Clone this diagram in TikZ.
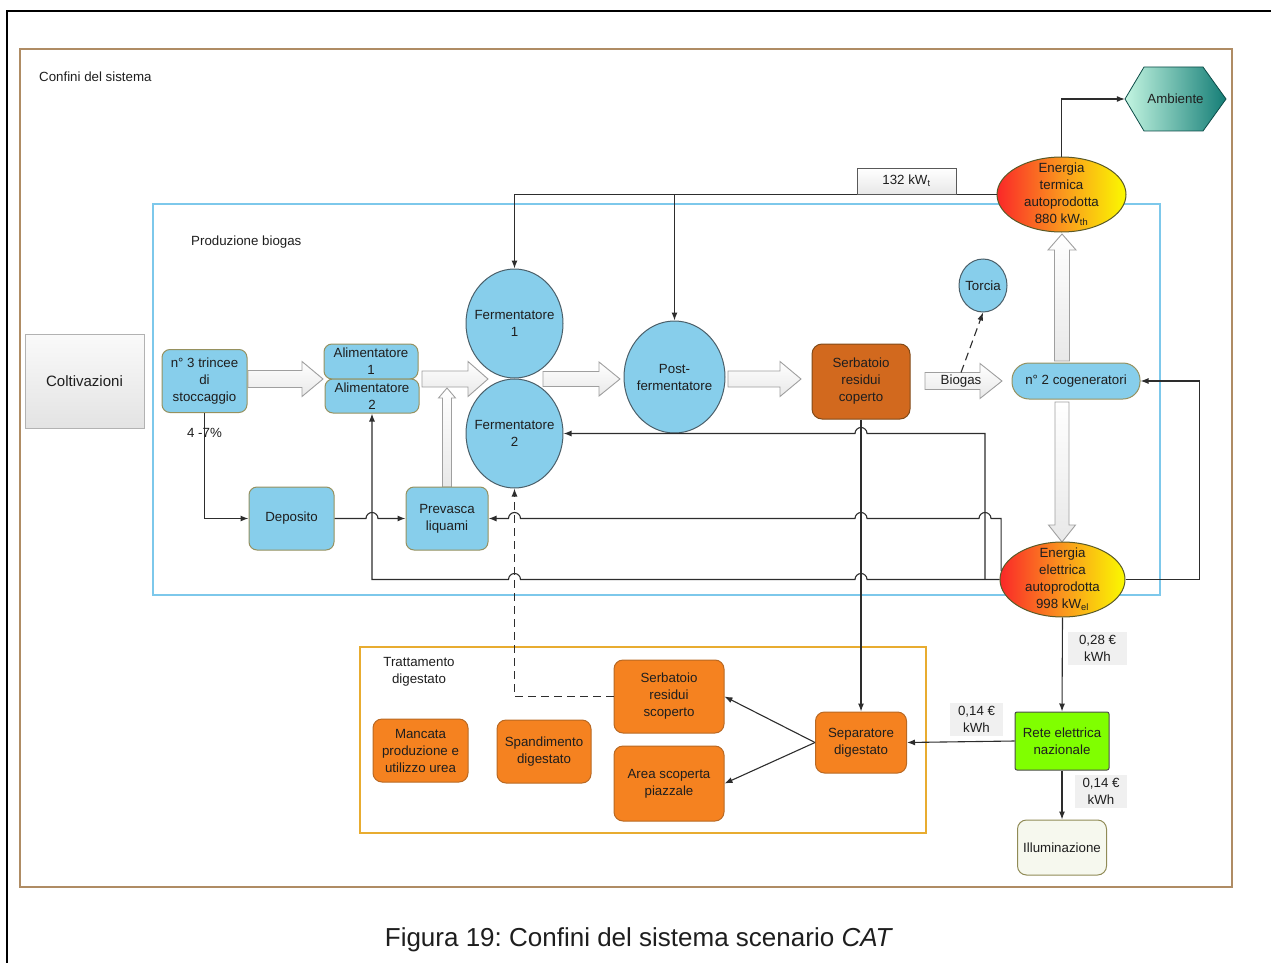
\documentclass[tikz,border=0pt]{standalone}
\usepackage{fontspec}
\setmainfont{Liberation Sans}
\usetikzlibrary{arrows.meta,shapes,positioning}
\frenchspacing

\definecolor{boxblue}{RGB}{135,206,235}
\definecolor{boxedge}{RGB}{150,145,95}
\definecolor{circedge}{RGB}{75,95,105}
\definecolor{cocoa}{RGB}{210,105,30}
\definecolor{tangerine}{RGB}{245,130,32}
\definecolor{orangeedge}{RGB}{185,105,35}
\definecolor{frameblue}{RGB}{125,200,235}
\definecolor{framegold}{RGB}{232,172,48}
\definecolor{frametan}{RGB}{175,140,100}
\definecolor{linegray}{RGB}{45,45,45}
\definecolor{txt}{RGB}{30,30,30}
\definecolor{gridgreen}{RGB}{128,255,0}
\definecolor{paleivory}{RGB}{246,248,238}
\definecolor{flame}{RGB}{250,40,40}
\definecolor{amber}{RGB}{250,150,30}
\definecolor{sun}{RGB}{250,250,0}
\definecolor{mint}{RGB}{195,245,225}
\definecolor{deepteal}{RGB}{20,125,118}

% hollow block arrow: start, length, angle, shaft half, head half, head length
\newcommand{\fatarrow}[6]{%
  \draw[fat,shift={#1},rotate=#3] (0,-#4) -- ({#2-#6},-#4) -- ({#2-#6},-#5) -- (#2,0)
    -- ({#2-#6},#5) -- ({#2-#6},#4) -- (0,#4) -- cycle;}

\begin{document}
\begin{tikzpicture}[x=1pt,y=1pt,
    every node/.style={text=txt,font=\fontsize{13.3}{17}\selectfont,align=center,inner sep=0pt},
    tank/.style={draw=boxedge,fill=boxblue,rounded corners=8pt,line width=1pt},
    vessel/.style={ellipse,draw=circedge,fill=boxblue,line width=1pt,label={center:#1}},
    energy/.style={ellipse,draw={rgb,255:red,90;green,90;blue,40},left color=flame,right color=sun,
      middle color=amber,line width=1pt,label={center:#1}},
    digbox/.style={draw=orangeedge,fill=tangerine,rounded corners=9pt,line width=1pt},
    price/.style={fill=gray!12,minimum width=59pt,minimum height=33pt},
    conn/.style={draw=linegray,line width=1.1pt,-{Latex[length=8pt,width=6pt]}},
    dashlink/.style={conn,dash pattern=on 8pt off 5pt},
    fat/.style={draw=gray!75,line width=0.9pt,top color=white,bottom color=gray!18}]
  \useasboundingbox (0,0) rectangle (1271,-963);

  % frames
  \draw[line width=2pt] (7,-963) -- (7,-11) -- (1271,-11);
  \draw[frametan,line width=2pt] (20,-49) rectangle (1232,-887);
  \node[anchor=west] at (39,-77) {Confini del sistema};
  \draw[frameblue,line width=2.5pt] (153,-204) rectangle (1160,-595);
  \node[anchor=west] at (191,-242) {Produzione biogas};
  \draw[framegold,line width=2.5pt] (360,-647) rectangle (926,-833);
  \node at (419,-672) {Trattamento\\digestato};

  % block arrows
  \fatarrow{(248,-379)}{75}{0}{8.5}{17.5}{21}
  \fatarrow{(422,-379)}{66}{0}{8}{17.5}{20}
  \fatarrow{(543,-379)}{77}{0}{7.5}{17}{21}
  \fatarrow{(728,-379)}{73}{0}{8}{17.5}{21}
  \fatarrow{(925,-381)}{77}{0}{8.5}{17.5}{22}
  \fatarrow{(447,-487)}{99}{90}{4.5}{8.5}{10}
  \fatarrow{(1062,-361)}{127}{90}{7.5}{14}{16}
  \fatarrow{(1062,-402)}{140}{-90}{7}{13.5}{17}
  \node (bgtext) at (961,-381) {Biogas};

  % nodes
  \node[draw=gray!60,top color=gray!4,bottom color=gray!22,minimum width=119pt,minimum height=94pt,
    font=\fontsize{15}{18}\selectfont] (colt) at (84.5,-381) {Coltivazioni};
  \node[tank,minimum width=85pt,minimum height=63pt] (trincee) at (204.5,-381) {n° 3 trincee\\di\\stoccaggio};
  \node[tank,minimum width=94pt,minimum height=35pt] (alim1) at (371,-361.5) {Alimentatore\\1};
  \node[tank,minimum width=94pt,minimum height=34pt] (alim2) at (372,-396) {Alimentatore\\2};
  \node[vessel={Fermentatore\\1},minimum width=97pt,minimum height=109pt] (ferm1) at (514.5,-323.5) {};
  \node[vessel={Fermentatore\\2},minimum width=97pt,minimum height=109pt] (ferm2) at (514.5,-433.5) {};
  \node[vessel={Post-\\fermentatore},minimum width=101pt,minimum height=112pt] (post) at (674.5,-377) {};
  \node[draw=orangeedge!70!black,fill=cocoa,rounded corners=10pt,line width=1pt,
    minimum width=98pt,minimum height=75pt] (serbC) at (861,-381.5) {Serbatoio\\residui\\coperto};
  \node[vessel={Torcia},minimum width=48pt,minimum height=53pt] (torcia) at (983,-285.5) {};
  \node[tank,rounded corners=17pt,minimum width=128pt,minimum height=36pt] (cogen) at (1076,-381) {n° 2 cogeneratori};
  \node[energy={Energia\\termica\\autoprodotta\\880 kW\textsubscript{th}},minimum width=129pt,
    minimum height=75pt] (term) at (1061.5,-194.5) {};
  \node[energy={Energia\\elettrica\\autoprodotta\\998 kW\textsubscript{el}},minimum width=125pt,
    minimum height=75pt] (elet) at (1062.5,-579.5) {};
  \draw[draw=deepteal!60!black,left color=mint,right color=deepteal,line width=0.8pt]
    (1125,-99) -- (1144,-67) -- (1203,-67) -- (1226,-99) -- (1203,-131) -- (1144,-131) -- cycle;
  \node[minimum width=101pt,minimum height=64pt] (amb) at (1175.5,-99) {Ambiente};
  \node[tank,minimum width=85pt,minimum height=63pt] (depo) at (291.5,-518.5) {Deposito};
  \node[tank,minimum width=82pt,minimum height=63pt] (prev) at (447,-518.5) {Prevasca\\liquami};
  \node[digbox,minimum width=110pt,minimum height=73pt] (serbS) at (669,-696.5) {Serbatoio\\residui\\scoperto};
  \node[digbox,minimum width=110pt,minimum height=75pt] (area) at (669,-783.5) {Area scoperta\\piazzale};
  \node[digbox,minimum width=91pt,minimum height=61pt] (separ) at (861,-742.5) {Separatore\\digestato};
  \node[digbox,minimum width=94pt,minimum height=63pt] (spand) at (544,-751.5) {Spandimento\\digestato};
  \node[digbox,minimum width=95pt,minimum height=63pt] (manc) at (420.5,-750.5) {Mancata\\produzione e\\utilizzo urea};
  \node[draw=black!70,fill=gridgreen,rounded corners=2pt,line width=1pt,
    minimum width=94pt,minimum height=58pt] (rete) at (1062,-741) {Rete elettrica\\nazionale};
  \node[draw=olive!40!gray,fill=paleivory,rounded corners=9pt,line width=1pt,
    minimum width=89pt,minimum height=55pt] (illum) at (1062,-847.5) {Illuminazione};

  % heat
  \draw[conn] (term.west) -| (ferm1.north);
  \draw[conn] (post.north |- term.west) -- (post.north);
  \draw[conn] (term.north) |- (amb.west);
  \node[draw=gray!70!black,top color=white,bottom color=gray!18,line width=0.8pt,
    minimum width=99pt,minimum height=26pt] (kwt) at (906.5,-181) {132 kW\textsubscript{t}};

  % electricity and returns
  \draw[conn] (elet.east) -- ++(74,0) |- (cogen.east);
  \draw[conn] (elet.west) -- (867,-579.5) arc[start angle=0,end angle=180,radius=6]
    -- (520.5,-579.5) arc[start angle=0,end angle=180,radius=6] -- (372,-579.5) -- (alim2.south);
  \coordinate (jel) at (985,-579.5);
  \draw[conn] (jel) -- (985,-433.5) -- (867,-433.5) arc[start angle=0,end angle=180,radius=6] -- (ferm2.east);
  \draw[conn] (elet.172) |- (991,-518.5) arc[start angle=0,end angle=180,radius=6]
    -- (867,-518.5) arc[start angle=0,end angle=180,radius=6]
    -- (520.5,-518.5) arc[start angle=0,end angle=180,radius=6] -- (prev.east);

  % feed line
  \draw[conn] (trincee.south) |- (depo.west);
  \node at (204.5,-433) {4 -7\%};
  \draw[conn] (depo.east) -- (366,-518.5) arc[start angle=180,end angle=0,radius=6] -- (prev.west);

  % digestate
  \draw[conn] (serbC.south) -- (separ.north);
  \draw[conn] (separ.west) -- (serbS.east);
  \draw[conn] (separ.west) -- (area.east);
  \draw[dashlink] (serbS.west) -| (ferm2.south);
  \coordinate (bg) at (961,-372.5);
  \draw[dashlink] (bg) -- (torcia.south);

  % grid
  \draw[conn] (elet.south) -- (rete.north);
  \draw[conn] (rete.west) -- (separ.east);
  \draw[conn] (rete.south) -- (illum.north);
  \node[price] (p1) at (1097.5,-648.5) {0,28 €\\kWh};
  \node[price,minimum width=53pt] (p2) at (976.5,-719.5) {0,14 €\\kWh};
  \node[price,minimum width=52pt] (p3) at (1101,-791.5) {0,14 €\\kWh};

  \node[font=\fontsize{26}{30}\selectfont] (caption) at (639,-940) {Figura 19: Confini del sistema scenario \textit{CAT}};
\end{tikzpicture}
\end{document}
